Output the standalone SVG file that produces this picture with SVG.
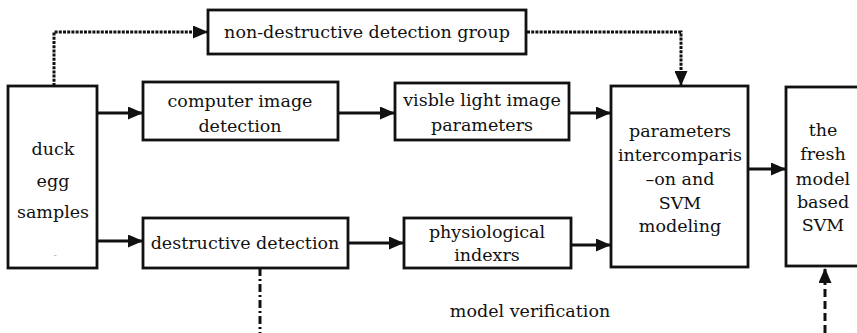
<svg xmlns="http://www.w3.org/2000/svg" width="857" height="333" viewBox="0 0 857 333">
<defs>
<style>
.box{fill:#fff;stroke:#111;stroke-width:2.8}
.t{font-family:"DejaVu Serif","Liberation Serif",serif;font-size:17.5px;fill:#111;text-anchor:middle}
.ln{fill:none;stroke:#111;stroke-width:3.2}
.dot{fill:none;stroke:#111;stroke-width:3;stroke-dasharray:3 1.2}
.dd{fill:none;stroke:#111;stroke-width:3;stroke-dasharray:8 3 2 3}
.dash{fill:none;stroke:#111;stroke-width:3;stroke-dasharray:8 4}
</style>
<marker id="ah" markerWidth="15" markerHeight="13" refX="14" refY="6.5" orient="auto" markerUnits="userSpaceOnUse">
<path d="M0,0 L15,6.5 L0,13 Z" fill="#111"/>
</marker>
</defs>
<rect width="857" height="333" fill="#fff"/>
<g id="connectors">
<path class="dot" d="M54,86 V32 H207" marker-end="url(#ah)"/>
<path class="dot" d="M527,32 H681 V85" marker-end="url(#ah)"/>
<path class="ln" d="M97,113 H142" marker-end="url(#ah)"/>
<path class="ln" d="M338,113 H394" marker-end="url(#ah)"/>
<path class="ln" d="M569,113 H610" marker-end="url(#ah)"/>
<path class="ln" d="M97,241 H142" marker-end="url(#ah)"/>
<path class="ln" d="M348,243 H403" marker-end="url(#ah)"/>
<path class="ln" d="M571,245 H610" marker-end="url(#ah)"/>
<path class="ln" d="M748,169 H785" marker-end="url(#ah)"/>
<path class="dd" d="M260,268 V333"/>
<path class="dash" d="M825,333 V269" marker-end="url(#ah)"/>
</g>
<g id="duck">
<rect class="box" x="8" y="86" width="89" height="182"/>
<text class="t" x="53" y="155">duck</text>
<text class="t" x="53" y="187">egg</text>
<text class="t" x="53" y="218">samples</text>
<text x="55" y="258" font-family="DejaVu Sans,sans-serif" font-size="9" fill="#aaa" text-anchor="middle">-</text>
</g>
<g id="nondestructive">
<rect class="box" x="208" y="10" width="318" height="44"/>
<text class="t" x="367" y="38">non-destructive detection group</text>
</g>
<g id="computer">
<rect class="box" x="143" y="82" width="195" height="58"/>
<text class="t" x="240" y="107">computer image</text>
<text class="t" x="240" y="132">detection</text>
</g>
<g id="visible">
<rect class="box" x="395" y="83" width="174" height="57"/>
<text class="t" x="482" y="106">visble light image</text>
<text class="t" x="482" y="131">parameters</text>
</g>
<g id="destructive">
<rect class="box" x="143" y="218" width="205" height="50"/>
<text class="t" x="245" y="249">destructive detection</text>
</g>
<g id="physio">
<rect class="box" x="404" y="218" width="167" height="50"/>
<text class="t" x="487" y="238">physiological</text>
<text class="t" x="487" y="261">indexrs</text>
</g>
<g id="params">
<rect class="box" x="611" y="86" width="137" height="181"/>
<text class="t" x="680" y="137">parameters</text>
<text class="t" x="680" y="161">intercomparis</text>
<text class="t" x="680" y="185">–on and</text>
<text class="t" x="680" y="209">SVM</text>
<text class="t" x="680" y="232">modeling</text>
</g>
<g id="fresh">
<rect class="box" x="786" y="87" width="90" height="179"/>
<text class="t" x="823" y="136">the</text>
<text class="t" x="823" y="160">fresh</text>
<text class="t" x="823" y="185">model</text>
<text class="t" x="823" y="208">based</text>
<text class="t" x="823" y="231">SVM</text>
</g>
<g id="label">
<text class="t" x="530" y="317">model verification</text>
</g>
</svg>
